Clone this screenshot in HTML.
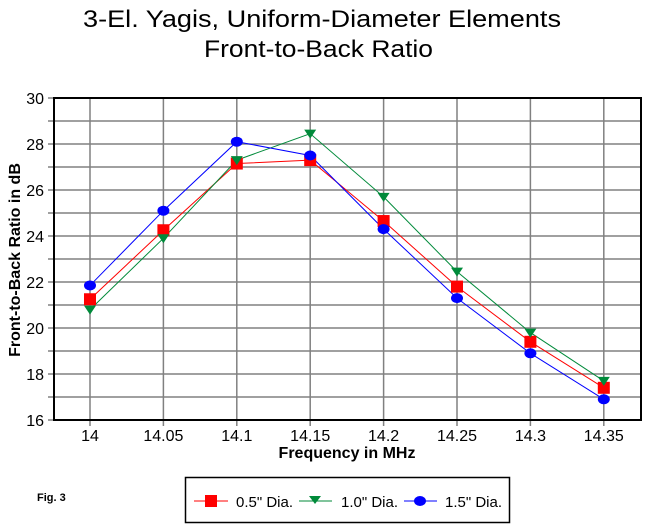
<!DOCTYPE html>
<html><head><meta charset="utf-8"><style>
html,body{margin:0;padding:0;background:#fff;}
svg{display:block;font-family:"Liberation Sans",Arial,sans-serif;}
</style></head><body>
<svg width="645" height="528" viewBox="0 0 645 528" xmlns="http://www.w3.org/2000/svg">
<rect width="645" height="528" fill="#fff"/>
<text x="83" y="27" font-size="24" textLength="478" lengthAdjust="spacingAndGlyphs">3-El. Yagis, Uniform-Diameter Elements</text>
<text x="204" y="57" font-size="24" textLength="229" lengthAdjust="spacingAndGlyphs">Front-to-Back Ratio</text>
<g stroke="#808080" stroke-width="1.5">
<line x1="54" x2="641" y1="121" y2="121"/><line x1="54" x2="641" y1="144" y2="144"/>
<line x1="54" x2="641" y1="167" y2="167"/><line x1="54" x2="641" y1="190" y2="190"/>
<line x1="54" x2="641" y1="213" y2="213"/><line x1="54" x2="641" y1="236" y2="236"/>
<line x1="54" x2="641" y1="259" y2="259"/><line x1="54" x2="641" y1="282" y2="282"/>
<line x1="54" x2="641" y1="305" y2="305"/><line x1="54" x2="641" y1="328" y2="328"/>
<line x1="54" x2="641" y1="351" y2="351"/><line x1="54" x2="641" y1="374" y2="374"/>
<line x1="54" x2="641" y1="397" y2="397"/>
<line y1="98" y2="426" x1="90" x2="90"/><line y1="98" y2="426" x1="163.4" x2="163.4"/>
<line y1="98" y2="426" x1="236.8" x2="236.8"/><line y1="98" y2="426" x1="310.2" x2="310.2"/>
<line y1="98" y2="426" x1="383.6" x2="383.6"/><line y1="98" y2="426" x1="457" x2="457"/>
<line y1="98" y2="426" x1="530.4" x2="530.4"/><line y1="98" y2="426" x1="603.8" x2="603.8"/>
<line x1="48" x2="54" y1="98" y2="98"/><line x1="48" x2="54" y1="121" y2="121"/><line x1="48" x2="54" y1="144" y2="144"/><line x1="48" x2="54" y1="167" y2="167"/><line x1="48" x2="54" y1="190" y2="190"/><line x1="48" x2="54" y1="213" y2="213"/><line x1="48" x2="54" y1="236" y2="236"/><line x1="48" x2="54" y1="259" y2="259"/><line x1="48" x2="54" y1="282" y2="282"/><line x1="48" x2="54" y1="305" y2="305"/><line x1="48" x2="54" y1="328" y2="328"/><line x1="48" x2="54" y1="351" y2="351"/><line x1="48" x2="54" y1="374" y2="374"/><line x1="48" x2="54" y1="397" y2="397"/><line x1="48" x2="54" y1="420" y2="420"/>
</g>
<rect x="54" y="98" width="587" height="322" fill="none" stroke="#000" stroke-width="2"/>
<g font-size="16" text-anchor="end">
<text x="44" y="104">30</text><text x="44" y="150">28</text><text x="44" y="196">26</text><text x="44" y="242">24</text><text x="44" y="288">22</text><text x="44" y="334">20</text><text x="44" y="380">18</text><text x="44" y="426">16</text>
</g>
<g font-size="16" text-anchor="middle">
<text x="90" y="441">14</text><text x="163.4" y="441">14.05</text><text x="236.8" y="441">14.1</text><text x="310.2" y="441">14.15</text><text x="383.6" y="441">14.2</text><text x="457" y="441">14.25</text><text x="530.4" y="441">14.3</text><text x="603.8" y="441">14.35</text>
</g>
<text x="347" y="458" font-size="16" font-weight="bold" text-anchor="middle">Frequency in MHz</text>
<text transform="translate(20,260) rotate(-90)" font-size="16" font-weight="bold" text-anchor="middle">Front-to-Back Ratio in dB</text>
<polyline fill="none" stroke="#f00" stroke-width="1" points="90,299.25 163.4,230.25 236.8,163.55 310.2,160.1 383.6,221.05 457,286.6 530.4,341.8 603.8,387.8"/>
<polyline fill="none" stroke="#008a3a" stroke-width="1" points="90,309.6 163.4,238.3 236.8,160.1 310.2,133.65 383.6,196.9 457,271.65 530.4,332.6 603.8,380.9"/>
<polyline fill="none" stroke="#00f" stroke-width="1" points="90,285.45 163.4,210.7 236.8,141.7 310.2,155.5 383.6,229.1 457,298.1 530.4,353.3 603.8,399.3"/>
<g fill="#f00">
<rect x="84" y="293.25" width="12" height="12"/><rect x="157.4" y="224.25" width="12" height="12"/><rect x="230.8" y="157.55" width="12" height="12"/><rect x="304.2" y="154.1" width="12" height="12"/><rect x="377.6" y="215.05" width="12" height="12"/><rect x="451" y="280.6" width="12" height="12"/><rect x="524.4" y="335.8" width="12" height="12"/><rect x="597.8" y="381.8" width="12" height="12"/>
</g>
<g fill="#008a3a">
<polygon points="84,305.6 96,305.6 90,314.6"/><polygon points="157.4,234.3 169.4,234.3 163.4,243.3"/><polygon points="230.8,156.1 242.8,156.1 236.8,165.1"/><polygon points="304.2,129.65 316.2,129.65 310.2,138.65"/><polygon points="377.6,192.9 389.6,192.9 383.6,201.9"/><polygon points="451,267.65 463,267.65 457,276.65"/><polygon points="524.4,328.6 536.4,328.6 530.4,337.6"/><polygon points="597.8,376.9 609.8,376.9 603.8,385.9"/>
</g>
<g fill="#00f">
<ellipse cx="90" cy="285.45" rx="6" ry="5"/><ellipse cx="163.4" cy="210.7" rx="6" ry="5"/><ellipse cx="236.8" cy="141.7" rx="6" ry="5"/><ellipse cx="310.2" cy="155.5" rx="6" ry="5"/><ellipse cx="383.6" cy="229.1" rx="6" ry="5"/><ellipse cx="457" cy="298.1" rx="6" ry="5"/><ellipse cx="530.4" cy="353.3" rx="6" ry="5"/><ellipse cx="603.8" cy="399.3" rx="6" ry="5"/>
</g>
<text x="37" y="501" font-size="11" font-weight="bold">Fig. 3</text>
<rect x="185.5" y="477.5" width="324" height="45" fill="none" stroke="#000" stroke-width="1.5"/>
<line x1="194" x2="228" y1="501" y2="501" stroke="#f00"/><rect x="205" y="495" width="12" height="12" fill="#f00"/>
<text x="236" y="507" font-size="15">0.5" Dia.</text>
<line x1="299" x2="332" y1="501" y2="501" stroke="#008a3a"/><polygon points="309,496 321,496 315,504" fill="#008a3a"/>
<text x="341" y="507" font-size="15">1.0" Dia.</text>
<line x1="404" x2="437" y1="501" y2="501" stroke="#00f"/><ellipse cx="420" cy="501" rx="6" ry="5" fill="#00f"/>
<text x="445" y="507" font-size="15">1.5" Dia.</text>
</svg>
</body></html>
